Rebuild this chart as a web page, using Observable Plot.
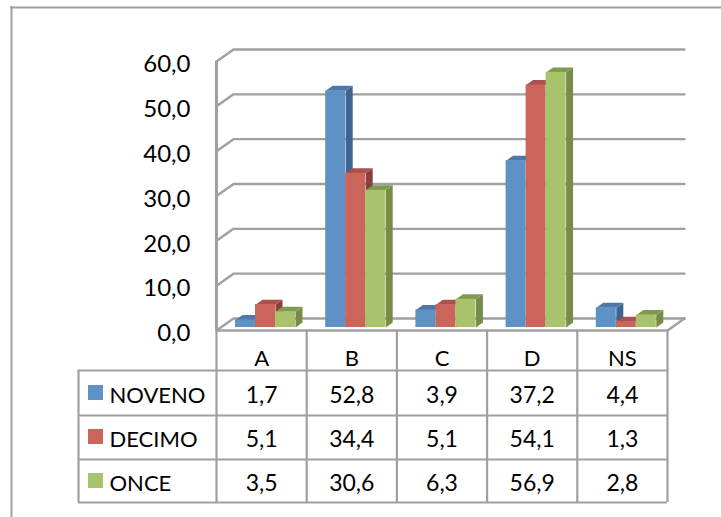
<!DOCTYPE html>
<html><head><meta charset="utf-8">
<script src="https://cdn.jsdelivr.net/npm/d3@7"></script>
<script src="https://cdn.jsdelivr.net/npm/@observablehq/plot@0.6"></script>
<style>html,body{margin:0;padding:0;background:#fff;overflow:hidden}svg{display:block}</style>
</head><body><div id="chart"></div>
<script>
const categories = ["A","B","C","D","NS"];
const seriesNames = ["NOVENO","DECIMO","ONCE"];
const noveno = [1.7,52.8,3.9,37.2,4.4];
const decimo = [5.1,34.4,5.1,54.1,1.3];
const once = [3.5,30.6,6.3,56.9,2.8];
const yTicks = [0,10,20,30,40,50,60];
const frontColors = ["#5E92C7","#CB645A","#A9C36C"];
const sideColors = ["#3F6491","#8C3F3A","#778C47"];
const topColors = ["#4E77A8","#A9514C","#7F9A4E"];
const seriesValues = [noveno,decimo,once];

// pixel layout -> data units
const X0=216,X5=667,Y0=330,Y60=61;
const ux = px => (px-X0)/(X5-X0)*5;
const uy = px => (Y0-px)/(Y0-Y60)*60;
const fmt = v => v.toFixed(1).replace(".",",");
const GRID="#A0A0A0";
const depthX=ux(233)-ux(216), depthY=uy(318)-uy(330);
const barW=ux(236)-ux(216), barStart=ux(235)-ux(216), barBase=uy(327);
const bdx=ux(223)-ux(216), bdy=uy(325)-uy(330);

const marks=[];
// outer frame
marks.push(Plot.ruleX([ux(11)],{y1:uy(6),y2:uy(517),stroke:GRID,strokeWidth:2}));
marks.push(Plot.ruleY([uy(7)],{x1:ux(10),x2:ux(721),stroke:GRID,strokeWidth:2}));
// walls and gridlines
const wallPts=yTicks.flatMap(t=>[
  {g:t,x:0,y:t},{g:t,x:depthX,y:t+depthY},{g:t,x:5+depthX,y:t+depthY}
]);
marks.push(Plot.line(wallPts,{x:"x",y:"y",z:"g",stroke:GRID,strokeWidth:2.4}));
marks.push(Plot.ruleX([0],{y1:0,y2:60,stroke:GRID,strokeWidth:3}));
marks.push(Plot.line([{x:5+depthX,y:depthY},{x:5,y:0},{x:0,y:0}],{x:"x",y:"y",stroke:GRID,strokeWidth:2.4}));
// table rules
const rowY=[370,415,459,502].map(uy);
marks.push(Plot.ruleY(rowY,{x1:ux(78),x2:5,stroke:GRID,strokeWidth:2.2}));
marks.push(Plot.ruleX(d3.range(0,6),{y1:0,y2:uy(502),stroke:GRID,strokeWidth:2.2}));
marks.push(Plot.ruleX([ux(78)],{y1:rowY[0],y2:rowY[3],stroke:GRID,strokeWidth:2.2}));
// bars
seriesValues.forEach((vals,s)=>{
  const rows=vals.map((v,i)=>({i,v,x1:i+barStart+s*barW,x2:i+barStart+(s+1)*barW,y1:barBase,y2:v+barBase}));
  const side=rows.flatMap(r=>[
    {id:r.i,x:r.x2,y:r.y1},{id:r.i,x:r.x2+bdx,y:r.y1+bdy},{id:r.i,x:r.x2+bdx,y:r.y2+bdy},{id:r.i,x:r.x2,y:r.y2}]);
  const top=rows.flatMap(r=>[
    {id:r.i,x:r.x1,y:r.y2},{id:r.i,x:r.x1+bdx,y:r.y2+bdy},{id:r.i,x:r.x2+bdx,y:r.y2+bdy},{id:r.i,x:r.x2,y:r.y2}]);
  marks.push(Plot.line(side,{x:"x",y:"y",z:"id",fill:sideColors[s],stroke:"none"}));
  marks.push(Plot.line(top,{x:"x",y:"y",z:"id",fill:topColors[s],stroke:"none"}));
  marks.push(Plot.rect(rows,{x1:"x1",x2:"x2",y1:"y1",y2:"y2",fill:frontColors[s]}));
});
// y labels
marks.push(Plot.text(yTicks,{x:0,y:d=>d,text:fmt,textAnchor:"end",dx:-26,dy:3,fontSize:24,fill:"#000"}));
// category labels
marks.push(Plot.text(categories,{x:(d,i)=>i+.5,y:uy(358),text:d=>d,fontSize:22,fill:"#000"}));
// table values + legend
seriesValues.forEach((vals,s)=>{
  const yc=uy([395,439,483][s]);
  marks.push(Plot.text(vals,{x:(d,i)=>i+.5,y:yc,text:fmt,fontSize:23,fill:"#000"}));
  marks.push(Plot.text([seriesNames[s]],{x:ux(109),y:yc,text:d=>d,textAnchor:"start",fontSize:22,fill:"#000"}));
  const ly=[385,429,473][s];
  marks.push(Plot.rect([s],{x1:ux(88),x2:ux(103),y1:uy(ly+15),y2:uy(ly),fill:frontColors[s]}));
});
const fig=Plot.plot({
  width:721,height:517,margin:0,
  x:{type:"linear",domain:[0,5],range:[X0,X5],axis:null},
  y:{type:"linear",domain:[0,60],range:[Y0,Y60],axis:null},
  style:{fontFamily:"Lato, 'Open Sans', sans-serif",background:"#fff"},
  marks
});
document.getElementById("chart").append(fig);
</script></body></html>
